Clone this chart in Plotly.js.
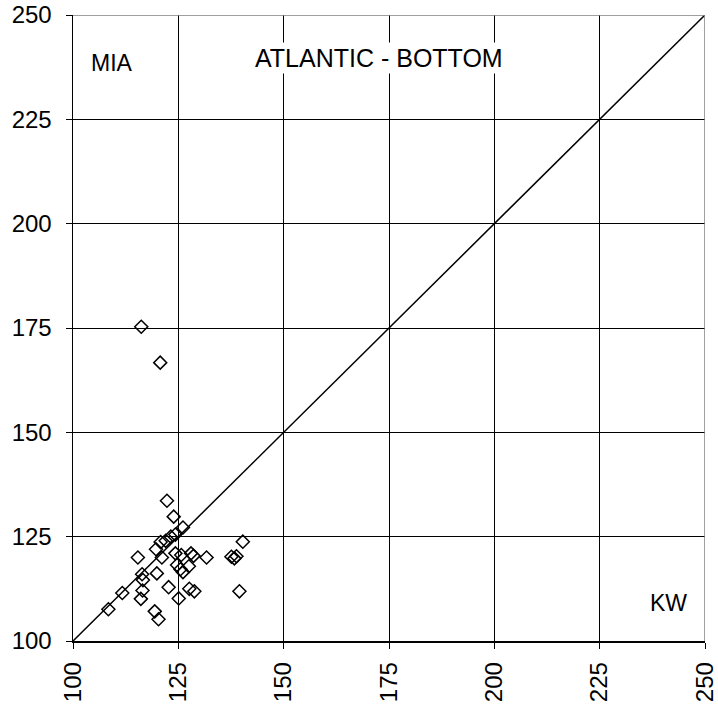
<!DOCTYPE html>
<html>
<head>
<meta charset="utf-8">
<script src="https://cdn.plot.ly/plotly-3.0.1.min.js"></script>
<style>html,body{margin:0;padding:0;background:#fff;}#chart{width:718px;height:708px;}</style>
</head>
<body>
<div id="chart"></div>
<script>
var kwValues = [116.2, 120.7, 122.3, 123.9, 126.1, 124.3, 123.2, 122.0, 120.8, 119.7,
  115.4, 121.1, 124.3, 125.7, 128.0, 128.6, 131.7, 137.6, 138.3, 138.8,
  140.3, 116.4, 116.6, 119.9, 124.7, 125.5, 126.1, 127.5, 111.7, 116.5,
  116.1, 122.7, 125.1, 127.6, 128.8, 139.5, 108.4, 119.4, 120.3];
var miaValues = [175.3, 166.7, 133.6, 129.8, 127.2, 125.5, 125.0, 124.0, 123.7, 122.0,
  120.0, 120.0, 121.0, 120.6, 121.0, 120.4, 120.0, 120.2, 119.8, 120.3,
  123.8, 116.0, 114.6, 116.2, 118.2, 117.2, 116.5, 117.9, 111.5, 112.1,
  110.1, 112.9, 110.2, 112.5, 111.9, 111.9, 107.6, 107.1, 105.2];
var diagonal = [100, 250];
var tickVals = [100, 125, 150, 175, 200, 225, 250];
var tickText = ['100', '125', '150', '175', '200', '225', '250'];
var chartTitle = 'ATLANTIC - BOTTOM';
var yLabel = 'MIA';
var xLabel = 'KW';

var font = 'Liberation Sans, Arial, sans-serif';

var traces = [
  {x: diagonal, y: diagonal, mode: 'lines', line: {color: '#000', width: 1.5}, hoverinfo: 'skip', showlegend: false},
  {x: kwValues, y: miaValues, mode: 'markers', showlegend: false,
   marker: {symbol: 'diamond-open', size: 10, color: '#000', line: {width: 1.5, color: '#000'}}}
];

var axisCommon = {
  range: [100, 250], tickvals: tickVals, ticktext: tickText,
  showgrid: true, gridcolor: '#000', gridwidth: 1,
  showline: true, linecolor: '#000', linewidth: 1.5,
  ticks: 'outside', ticklen: 6, tickcolor: '#000', tickwidth: 1,
  zeroline: false, tickfont: {family: font, size: 24, color: '#000'},
  fixedrange: true
};

var layout = {
  width: 718, height: 708,
  margin: {l: 73, r: 13, t: 15, b: 67},
  paper_bgcolor: '#fff', plot_bgcolor: '#fff',
  xaxis: Object.assign({}, axisCommon, {tickangle: -90, ticklabelstandoff: 4}),
  yaxis: Object.assign({}, axisCommon, {ticklabelstandoff: 9}),
  annotations: [
    {x: 109.3, y: 238.6, xref: 'x', yref: 'y', text: yLabel, showarrow: false, font: {family: font, size: 23, color: '#000'}, bgcolor: '#fff'},
    {x: 172.7, y: 239.6, xref: 'x', yref: 'y', text: chartTitle, showarrow: false, font: {family: font, size: 25, color: '#000'}, bgcolor: '#fff'},
    {x: 241.3, y: 109, xref: 'x', yref: 'y', text: xLabel, showarrow: false, font: {family: font, size: 23, color: '#000'}, bgcolor: '#fff'}
  ],
  shapes: [
    {type: 'line', xref: 'x', yref: 'y', x0: 100, x1: 250, y0: 250, y1: 250, line: {color: '#808080', width: 1.5}},
    {type: 'line', xref: 'x', yref: 'y', x0: 250, x1: 250, y0: 100, y1: 250, line: {color: '#808080', width: 1.5}}
  ]
};

Plotly.newPlot('chart', traces, layout, {displayModeBar: false, staticPlot: true});
</script>
</body>
</html>
